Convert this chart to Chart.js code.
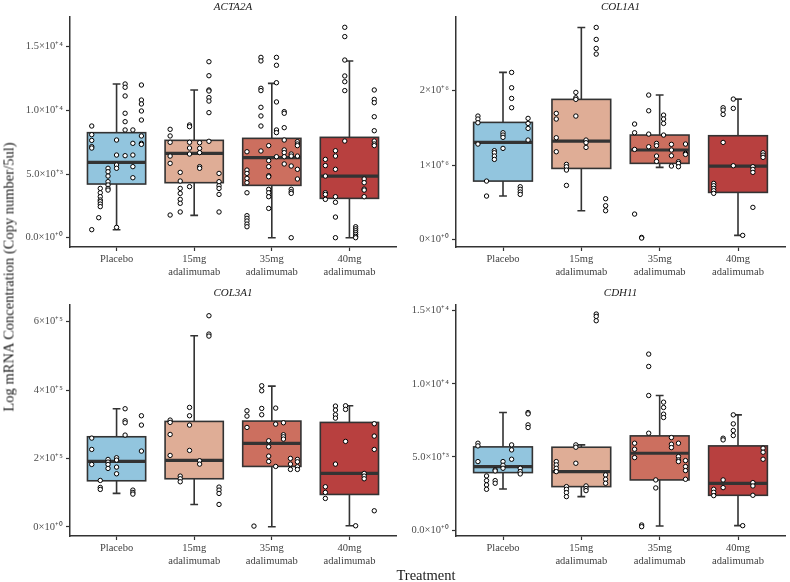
<!DOCTYPE html>
<html lang="en">
<head>
<meta charset="UTF-8">
<title>mRNA concentration by treatment</title>
<script src="https://cdn.jsdelivr.net/npm/chart.js"></script>
<style>
  body { margin: 0; background: #fff; }
  #wrap { position: relative; width: 790px; height: 582px; overflow: hidden; font-family: 'Liberation Serif', 'Times New Roman', serif; }
  #wrap canvas { position: absolute; }
  .axis-title { position: absolute; font-size: 14.5px; font-weight: normal; color: #1a1a1a; white-space: nowrap; transform: translate(-50%, -50%); }
  #ytitle { left: 9px; top: 277px; transform: translate(-50%, -50%) rotate(-90deg); }
  #xtitle { left: 426px; top: 575px; }
</style>
</head>
<body>
<div id="wrap">
  <canvas id="acta2a" width="401" height="285" style="left:0;top:0"></canvas>
  <canvas id="col1a1" width="389" height="285" style="left:401px;top:0"></canvas>
  <canvas id="col3a1" width="401" height="290" style="left:0;top:280px"></canvas>
  <canvas id="cdh11" width="389" height="290" style="left:401px;top:280px"></canvas>
  <div class="axis-title" id="ytitle">Log mRNA Concentration (Copy number/5ul)</div>
  <div class="axis-title" id="xtitle">Treatment</div>
</div>
<script>
// treatment groups
const groups = ['Placebo', ['15mg', 'adalimumab'], ['35mg', 'adalimumab'], ['40mg', 'adalimumab']];

// box stats per group: [lower whisker, q1, median, q3, upper whisker]
const acta2aBox = [[630, 4215, 5916, 8246, 12068], [1754, 4320, 6624, 7645, 11598], [0, 4110, 6283, 7801, 12121], [0, 3089, 4843, 7880, 13875]];
const col1a1Box = [[586000, 787000, 1306000, 1575000, 2246000], [389000, 957000, 1324000, 1884000, 2850000], [971000, 1025000, 1204000, 1405000, 1942000], [58000, 635000, 989000, 1396000, 1888000]];
const col3a1Box = [[97600, 134600, 191200, 263400, 345400], [65400, 140500, 194100, 308300, 559000], [0, 176600, 243900, 309300, 411700], [2900, 94600, 156100, 305400, 354100]];
const cdh11Box = [[2808, 3927, 4338, 5685, 8037], [2283, 2968, 3995, 5662, 5822], [274, 3425, 5251, 6438, 9200], [297, 2374, 3196, 5753, 7876]];

// observations per group: [jitter offset, value]
const acta2aPts = [
  [[-0.32,8770],[-0.32,8090],[-0.32,7640],[-0.32,7150],[-0.32,7040],[-0.32,630],
   [-0.21,3870],[-0.21,3530],[-0.21,3220],[-0.21,2960],[-0.21,2830],[-0.21,2640],[-0.21,2440],[-0.23,1570],
   [-0.11,5450],[-0.11,5180],[-0.11,4840],[-0.11,4400],[-0.11,4140],[-0.11,3870],[-0.11,3740],
   [0,7670],[0,6490],[0,5710],[0,5450],[0,810],
   [0.11,12070],[0.11,11810],[0.11,11130],[0.11,9770],[0.11,9110],[0.11,8460],[0.11,6440],
   [0.21,8460],[0.21,7410],[0.21,6490],[0.21,5580],[0.21,4710],
   [0.32,11990],[0.32,10810],[0.32,10500],[0.32,9950],[0.32,9240],[0.32,7990],[0.32,7410],[0.32,7330]],
  [[-0.31,8510],[-0.31,7990],[-0.31,7490],[-0.31,6410],[-0.31,5840],[-0.31,1780],
   [-0.18,5130],[-0.18,4450],[-0.18,3870],[-0.18,3480],[-0.18,3010],[-0.18,2700],[-0.18,2020],
   [-0.06,8850],[-0.06,8720],[-0.06,7490],[-0.06,7040],[-0.06,6570],[-0.06,4010],
   [0.07,7460],[0.07,7020],[0.07,6680],[0.07,5580],[0.07,5450],
   [0.19,13820],[0.19,12720],[0.19,11600],[0.19,11520],[0.19,11000],[0.19,10730],[0.19,9820],[0.19,7570],
   [0.32,5050],[0.32,4400],[0.32,4080],[0.32,3870],[0.32,3400],[0.32,2020]],
  [[-0.32,6750],[-0.32,5310],[-0.32,5050],[-0.32,4660],[-0.32,4320],[-0.32,3530],[-0.32,1730],[-0.32,1520],[-0.32,1310],[-0.32,1070],[-0.32,860],
   [-0.14,14160],[-0.14,13880],[-0.14,11730],[-0.14,11550],[-0.14,10240],[-0.14,9560],[-0.14,8770],[-0.14,6810],
   [-0.04,7230],[-0.04,6050],[-0.04,5580],[-0.04,4870],[-0.04,4790],[-0.04,3800],[-0.04,3530],[-0.04,3220],[-0.04,2300],
   [0.06,14160],[0.06,13540],[0.06,12170],[0.06,10660],[0.06,8460],[0.06,8250],[0.06,6360],
   [0.16,9900],[0.16,9770],[0.16,8640],[0.16,7670],[0.16,6890],[0.16,6680],[0.16,6360],[0.16,5790],
   [0.25,6570],[0.25,6410],[0.25,5630],[0.25,3800],[0.25,3610],[0.25,3480],[0.25,0],
   [0.33,7540],[0.33,7360],[0.33,7230],[0.33,6410],[0.33,5370],[0.33,4610]],
  [[-0.31,6150],[-0.31,5660],[-0.31,4840],[-0.31,3530],[-0.31,3400],[-0.31,3010],
   [-0.18,6830],[-0.18,6410],[-0.18,5370],[-0.18,3220],[-0.18,2780],[-0.18,1620],[-0.18,0],
   [-0.06,16520],[-0.06,15790],[-0.06,13950],[-0.06,12700],[-0.06,12250],[-0.06,11550],[-0.06,7590],
   [0.08,860],[0.08,700],[0.08,550],[0.08,400],[0.08,250],[0.08,100],[0.08,0],
   [0.19,4610],[0.19,4320],[0.19,3820],[0.19,3740],[0.19,3220],
   [0.32,11600],[0.32,10860],[0.32,10600],[0.32,9500],[0.32,8400],[0.32,7590],[0.32,7360],[0.32,7230]]
];
const col1a1Pts = [
  [[-0.32,1660000],[-0.32,1620000],[-0.32,1570000],[-0.32,1284000],
   [-0.21,787000],[-0.21,586000],
   [-0.11,1195000],[-0.11,1168000],[-0.11,1123000],[-0.11,1078000],
   [0,1436000],[0,1405000],[0,1374000],[0,1226000],
   [0.11,2246000],[0.11,2040000],[0.11,1897000],[0.11,1772000],
   [0.22,711000],[0.22,676000],[0.22,640000],[0.22,608000],
   [0.32,1629000],[0.32,1561000],[0.32,1494000],[0.32,1338000]],
  [[-0.32,1696000],[-0.32,1620000],[-0.32,1369000],[-0.32,1181000],
   [-0.19,1011000],[-0.19,980000],[-0.19,935000],[-0.19,729000],
   [-0.07,1978000],[-0.07,1906000],[-0.07,1884000],[-0.07,1660000],
   [0.06,1338000],[0.06,1302000],[0.06,1239000],
   [0.19,2850000],[0.19,2689000],[0.19,2568000],[0.19,2492000],
   [0.31,550000],[0.31,456000],[0.31,389000]],
  [[-0.32,1553000],[-0.32,1436000],[-0.32,1212000],[-0.32,344000],
   [-0.23,31000],[-0.23,22000],
   [-0.14,1942000],[-0.14,1731000],[-0.14,1418000],[-0.14,1248000],
   [-0.04,1293000],[-0.04,1262000],[-0.04,1123000],[-0.04,1051000],
   [0.05,1673000],[0.05,1620000],[0.05,1561000],[0.05,1405000],
   [0.15,1280000],[0.15,1204000],[0.15,1127000],[0.15,989000],
   [0.24,1047000],[0.24,1025000],[0.24,980000],
   [0.33,1284000],[0.33,1159000],[0.33,1145000]],
  [[-0.31,756000],[-0.31,725000],[-0.31,689000],[-0.31,658000],[-0.31,622000],
   [-0.19,1772000],[-0.19,1740000],[-0.19,1682000],[-0.19,1306000],
   [-0.06,1888000],[-0.06,1763000],[-0.06,993000],
   [0.06,58000],
   [0.19,980000],[0.19,944000],[0.19,904000],[0.19,434000],
   [0.32,1168000],[0.32,1136000],[0.32,1105000]]
];
const col3a1Pts = [
  [[-0.32,259500],[-0.32,226300],[-0.32,182400],
   [-0.21,135600],[-0.21,115100],[-0.21,109300],
   [-0.11,197100],[-0.11,189300],[-0.11,182400],[-0.11,170700],
   [0,202000],[0,195100],[0,174600],[0,155100],
   [0.11,345400],[0.11,310200],[0.11,304400],[0.11,268300],
   [0.21,107300],[0.21,100500],[0.21,95600],
   [0.32,324900],[0.32,297600],[0.32,221500]],
  [[-0.31,312200],[-0.31,305400],[-0.31,270200],[-0.31,208800],
   [-0.18,148300],[-0.18,140500],[-0.18,131700],
   [-0.06,349300],[-0.06,324900],[-0.06,297600],[-0.06,223400],
   [0.07,193200],[0.07,183400],
   [0.19,617600],[0.19,563900],[0.19,558000],
   [0.32,116100],[0.32,107300],[0.32,97600],[0.32,65400]],
  [[-0.32,339500],[-0.32,323900],[-0.32,290700],
   [-0.23,2000],
   [-0.13,412700],[-0.13,398000],[-0.13,346300],[-0.13,327800],
   [-0.04,251700],[-0.04,234100],[-0.04,206800],[-0.04,191200],
   [0.05,347300],[0.05,300500],[0.05,176600],
   [0.15,304400],[0.15,269300],[0.15,263400],[0.15,256600],
   [0.24,200000],[0.24,183400],[0.24,167800],
   [0.33,197100],[0.33,190200],[0.33,175600],[0.33,167800]],
  [[-0.31,117100],[-0.31,100500],[-0.31,82900],
   [-0.18,353200],[-0.18,341500],[-0.18,327800],[-0.18,318000],[-0.18,183400],
   [-0.05,354100],[-0.05,343400],[-0.05,249800],
   [0.08,2900],
   [0.19,156100],[0.19,148300],[0.19,140500],
   [0.32,301500],[0.32,265400],[0.32,226300],[0.32,46800]]
];
const cdh11Pts = [
  [[-0.32,5936],[-0.32,5753],[-0.32,4680],
   [-0.21,3699],[-0.21,3379],[-0.21,3082],[-0.21,2785],
   [-0.10,4109],[-0.10,4041],[-0.10,3379],[-0.10,3196],
   [0,4680],[0,4429],[0,4224],
   [0.11,5822],[0.11,5479],[0.11,4840],
   [0.22,4224],[0.22,3995],[0.22,3835],
   [0.32,8036],[0.32,7945],[0.32,7191],[0.32,7009]],
  [[-0.32,4680],[-0.32,4452],[-0.32,4224],[-0.32,3995],
   [-0.19,2968],[-0.19,2785],[-0.19,2557],[-0.19,2283],
   [-0.07,5822],[-0.07,5662],[-0.07,4566],
   [0.06,3014],[0.06,2831],[0.06,2694],
   [0.19,14771],[0.19,14611],[0.19,14314],
   [0.31,3767],[0.31,3470],[0.31,3196]],
  [[-0.32,5936],[-0.32,5525],[-0.32,4954],
   [-0.23,342],[-0.23,228],
   [-0.14,12031],[-0.14,11187],[-0.14,9200],[-0.14,6621],
   [-0.05,3425],[-0.05,2877],
   [0.05,8744],[0.05,8379],[0.05,7922],[0.05,7694],
   [0.15,6324],[0.15,5867],[0.15,5639],
   [0.24,5936],[0.24,5023],[0.24,4794],[0.24,4680],
   [0.33,4749],[0.33,4338],[0.33,4064],[0.33,3470]],
  [[-0.31,2785],[-0.31,2580],[-0.31,2352],
   [-0.19,6278],[-0.19,6164],[-0.19,3425],[-0.19,2899],
   [-0.06,7876],[-0.06,7260],[-0.06,6803],[-0.06,6461],
   [0.06,297],
   [0.19,3242],[0.19,3014],[0.19,2374],
   [0.32,5593],[0.32,5319],[0.32,4840]]
];

// y axis ticks
const acta2aTicks = [0, 5000, 10000, 15000];
const acta2aLabels = ['0.0×10⁺⁰', '5.0×10⁺³', '1.0×10⁺⁴', '1.5×10⁺⁴'];
const col1a1Ticks = [0, 1000000, 2000000];
const col1a1Labels = ['0×10⁺⁰', '1×10⁺⁶', '2×10⁺⁶'];
const col3a1Ticks = [0, 200000, 400000, 600000];
const col3a1Labels = ['0×10⁺⁰', '2×10⁺⁵', '4×10⁺⁵', '6×10⁺⁵'];
const cdh11Ticks = [0, 5000, 10000, 15000];
const cdh11Labels = ['0.0×10⁺⁰', '5.0×10⁺³', '1.0×10⁺⁴', '1.5×10⁺⁴'];

const fillColors = ['#92C5DE', '#DFAD96', '#CC6F5F', '#B8403F'];
const ink = '#333333';
const serif = "'Liberation Serif', 'Times New Roman', serif";

function boxPlugin(stats, title, titleGap) {
  return {
    id: 'boxes',
    beforeDatasetsDraw(chart) {
      const { ctx, scales: { x, y } } = chart;
      stats.forEach((s, i) => {
        const [lo, q1, med, q3, hi] = s;
        const c = i + 1;
        const cx = x.getPixelForValue(c);
        const bl = x.getPixelForValue(c - 0.375), br = x.getPixelForValue(c + 0.375);
        const cl = x.getPixelForValue(c - 0.05), cr = x.getPixelForValue(c + 0.05);
        ctx.save();
        ctx.strokeStyle = ink;
        ctx.lineWidth = 1.6;
        // whiskers + caps
        ctx.beginPath();
        ctx.moveTo(cx, y.getPixelForValue(lo));
        ctx.lineTo(cx, y.getPixelForValue(hi));
        ctx.moveTo(cl, y.getPixelForValue(lo));
        ctx.lineTo(cr, y.getPixelForValue(lo));
        ctx.moveTo(cl, y.getPixelForValue(hi));
        ctx.lineTo(cr, y.getPixelForValue(hi));
        ctx.stroke();
        // box
        const yt = y.getPixelForValue(q3), yb = y.getPixelForValue(q1);
        ctx.fillStyle = fillColors[i];
        ctx.fillRect(bl, yt, br - bl, yb - yt);
        ctx.strokeRect(bl, yt, br - bl, yb - yt);
        // median
        ctx.lineWidth = 3.2;
        ctx.beginPath();
        ctx.moveTo(bl, y.getPixelForValue(med));
        ctx.lineTo(br, y.getPixelForValue(med));
        ctx.stroke();
        ctx.restore();
      });
    },
    afterDraw(chart) {
      const { ctx, chartArea } = chart;
      ctx.save();
      ctx.font = 'italic 11px ' + serif;
      ctx.fillStyle = '#1a1a1a';
      ctx.textAlign = 'center';
      ctx.textBaseline = 'middle';
      ctx.fillText(title, (chartArea.left + chartArea.right) / 2, chartArea.top - titleGap);
      ctx.restore();
    }
  };
}

function drawPanel(id, title, box, pts, ticks, labels, yMin, yMax, opt) {
  const data = pts.flatMap((g, i) => g.map(([dx, v]) => ({ x: i + 1 + dx, y: v })));
  new Chart(document.getElementById(id), {
    type: 'scatter',
    data: {
      datasets: [{
        data: data,
        pointRadius: 2.2,
        pointBackgroundColor: '#ffffff',
        pointBorderColor: '#000000',
        pointBorderWidth: 1
      }]
    },
    options: {
      responsive: false,
      animation: false,
      layout: { padding: { top: opt.top, right: opt.right, left: 0, bottom: 0 } },
      plugins: { legend: { display: false }, tooltip: { enabled: false } },
      scales: {
        x: {
          type: 'linear', min: 0.4, max: 4.6,
          afterBuildTicks: s => { s.ticks = [1, 2, 3, 4].map(v => ({ value: v })); },
          afterFit: s => { s.height = opt.xh; },
          ticks: {
            callback: v => groups[v - 1],
            font: { family: serif, size: 10.5 }, color: '#404040', padding: 2, maxRotation: 0, autoSkip: false
          },
          grid: { drawOnChartArea: false, tickLength: 4, tickColor: ink, tickWidth: 1.2 },
          border: { display: true, color: ink, width: 1.5 }
        },
        y: {
          type: 'linear', min: yMin, max: yMax,
          afterBuildTicks: s => { s.ticks = ticks.map(v => ({ value: v })); },
          afterFit: s => { s.width = opt.yw; },
          ticks: {
            callback: (v, i) => labels[i],
            font: { family: serif, size: 10.5 }, color: '#4d4d4d', padding: 3
          },
          grid: { drawOnChartArea: false, tickLength: 4, tickColor: ink, tickWidth: 1.2 },
          border: { display: true, color: ink, width: 1.5 }
        }
      }
    },
    plugins: [boxPlugin(box, title, opt.gap)]
  });
}

drawPanel('acta2a', 'ACTA2A', acta2aBox, acta2aPts, acta2aTicks, acta2aLabels, -730, 17330, { top: 17, right: 0, yw: 70, xh: 38, gap: 10 });
drawPanel('col1a1', 'COL1A1', col1a1Box, col1a1Pts, col1a1Ticks, col1a1Labels, -98000, 2990000, { top: 17, right: 3, yw: 55, xh: 38, gap: 10 });
drawPanel('col3a1', 'COL3A1', col3a1Box, col3a1Pts, col3a1Ticks, col3a1Labels, -27000, 649000, { top: 25, right: 0, yw: 70, xh: 34, gap: 12 });
drawPanel('cdh11', 'CDH11', cdh11Box, cdh11Pts, cdh11Ticks, cdh11Labels, -410, 15390, { top: 25, right: 3, yw: 55, xh: 34, gap: 12 });
</script>
</body>
</html>
